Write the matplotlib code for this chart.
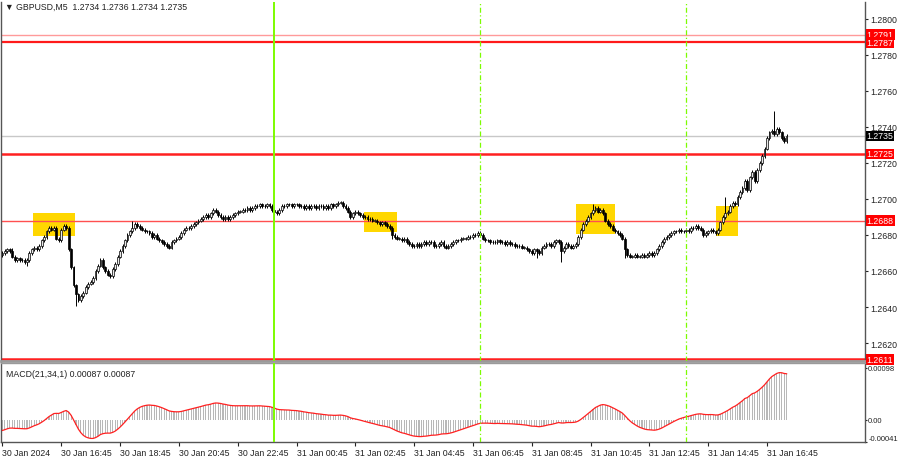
import numpy as np
import matplotlib
matplotlib.use("Agg")
import matplotlib.pyplot as plt
import matplotlib.transforms as mtransforms

plt.rcParams['font.family'] = ['Liberation Sans', 'DejaVu Sans']

base = 1.2600
pip = 0.0001

# M5 closes, pips above 1.2600, first bar 30 Jan 14:45
closes_pips = [
    70, 71, 72, 71, 68, 66, 67, 66, 66, 65, 66, 70,
    72, 73, 72, 74, 77, 79, 82, 84, 83, 84, 78, 77,
    83, 85, 84, 72, 62, 52, 47, 44, 46, 48, 51, 53,
    54, 56, 60, 63, 66, 62, 60, 58, 57, 61, 64, 68,
    71, 74, 77, 80, 82, 84, 86, 85, 84, 83, 82, 82,
    81, 79, 80, 78, 77, 76, 75, 74, 73, 76, 77, 78,
    79, 81, 83, 84, 84, 85, 86, 87, 88, 89, 90, 91,
    90, 92, 94, 93, 91, 90, 89, 90, 89, 90, 91, 92,
    93, 93, 94, 94, 95, 94, 95, 96, 96, 97, 96, 96,
    97, 96, 94, 93, 92, 94, 96, 96, 97, 97, 96, 97,
    97, 96, 96, 95, 96, 95, 96, 96, 95, 96, 96, 95,
    96, 95, 97, 96, 97, 98, 98, 96, 95, 93, 90, 92,
    93, 92, 91, 90, 90, 89, 89, 88, 88, 87, 86, 87,
    86, 85, 84, 80, 79, 78, 78, 77, 78, 76, 75, 74,
    74, 75, 74, 75, 76, 75, 76, 76, 74, 74, 75, 76,
    74, 73, 74, 75, 76, 77, 77, 78, 78, 78, 79, 79,
    80, 80, 81, 80, 78, 77, 77, 76, 76, 76, 77, 76,
    76, 75, 76, 75, 75, 74, 74, 74, 73, 73, 72, 71,
    70, 72, 71, 70, 73, 74, 75, 75, 74, 76, 77, 76,
    71, 73, 75, 74, 73, 74, 75, 79, 83, 86, 88, 90,
    92, 94, 95, 93, 94, 92, 88, 86, 85, 83, 82, 81,
    80, 78, 72, 69, 68, 68, 69, 68, 68, 69, 68, 69,
    70, 69, 70, 72, 74, 76, 78, 79, 80, 81, 82, 82,
    83, 82, 82, 83, 82, 84, 84, 85, 84, 83, 80, 81,
    82, 83, 82, 81, 83, 87, 90, 92, 93, 96, 98, 97,
    101, 104, 106, 110, 105, 112, 115, 110, 116, 120, 124, 128,
    134, 137, 138, 136, 139, 137, 134, 132, 135,
]
open0_pips = 69
high_spikes = {4: 73, 53: 88, 138: 99, 241: 97, 295: 101, 315: 149}
low_spikes = {10: 63, 30: 40.5, 111: 88, 159: 78, 218: 67, 228: 65, 254: 67}

levels = [1.2791, 1.2787, 1.2725, 1.2688, 1.2611]
level_colors = ['#ff9a9a', '#ff1a1a', '#ff2020', '#ff5050', '#ff2020']
level_widths = [1.0, 1.6, 1.8, 1.0, 1.8]
label_nudge = [0.00004, -0.00003, 0, 0, 0]
bid = 1.2735

# yellow zones: first bar, last bar, top, bottom
zones = [(12.4, 29.6, 1.26921, 1.26796),
         (147.7, 160.9, 1.26926, 1.26815),
         (234.1, 250.0, 1.26972, 1.26806),
         (291.1, 300.0, 1.26963, 1.26793)]

day_line = 111
session_lines = [195, 279]

time_labels = ['30 Jan 2024', '30 Jan 16:45', '30 Jan 18:45', '30 Jan 20:45',
               '30 Jan 22:45', '31 Jan 00:45', '31 Jan 02:45', '31 Jan 04:45',
               '31 Jan 06:45', '31 Jan 08:45', '31 Jan 10:45', '31 Jan 12:45',
               '31 Jan 14:45', '31 Jan 16:45']
macd_start = -0.00021

closes = base + np.array(closes_pips, dtype=float) * pip
n = len(closes)
idx = np.arange(n)
opens = np.r_[base + open0_pips * pip, closes[:-1]]
highs = np.maximum(opens, closes) + 1.0 * pip
lows = np.minimum(opens, closes) - 1.0 * pip
for k, v in high_spikes.items():
    highs[k] = base + v * pip
for k, v in low_spikes.items():
    lows[k] = base + v * pip


def ema(values, span, seed):
    a = 2.0 / (span + 1)
    out = np.empty_like(values)
    prev = seed
    for i, v in enumerate(values):
        prev = prev + a * (v - prev)
        out[i] = prev
    return out


macd = ema(closes, 21, closes[0]) - ema(closes, 34, closes[0] - macd_start)

fig = plt.figure(figsize=(9, 4.6), dpi=100)
ax = fig.add_axes([0.0011, 0.213, 0.9600, 0.7805])
axm = fig.add_axes([0.0011, 0.037, 0.9600, 0.1717])

xl = (-0.6, 352)

# zones
for x0, x1, top, bot in zones:
    ax.add_patch(plt.Rectangle((x0, bot), x1 - x0, top - bot, color='#ffd700', lw=0, zorder=1))

for lv, c, w in zip(levels, level_colors, level_widths):
    ax.axhline(lv, color=c, lw=w, zorder=2)
ax.axhline(bid, color='#c8c8c8', lw=1, zorder=2)

# candles
up = closes >= opens
ax.vlines(idx, lows, highs, color='black', lw=0.7, zorder=3)
body_lo = np.minimum(opens, closes)
body_h = np.maximum(np.abs(closes - opens), 0.15 * pip)
ax.bar(idx[up], body_h[up], bottom=body_lo[up], width=0.75, color='#e8e8e8',
       edgecolor='black', lw=0.5, zorder=4)
ax.bar(idx[~up], body_h[~up], bottom=body_lo[~up], width=0.75, color='black',
       edgecolor='black', lw=0.5, zorder=4)

for a in (ax, axm):
    a.axvline(day_line, color='#7cfc00', lw=1.4, zorder=5)
    for s in session_lines:
        a.axvline(s, color='#7cfc00', lw=0.9, ls=(0, (4, 2, 1, 2)), zorder=5)
    a.set_xlim(*xl)
    for sp in a.spines.values():
        sp.set_color('#555555')
        sp.set_linewidth(1.0)

ax.set_ylim(1.26100, 1.28094)
ax.yaxis.tick_right()
ax.set_yticks(np.arange(1.2620, 1.28001, 0.0020))
ax.set_yticklabels(['%.4f' % v for v in np.arange(1.2620, 1.28001, 0.0020)])
ax.tick_params(axis='y', length=2.5, labelsize=6.3, pad=1.5, colors='#222222')
ax.set_xticks([])
ax.spines['top'].set_visible(False)
ax.spines['bottom'].set_color('#9a9a9a')
ax.spines['bottom'].set_linewidth(2)

tr = mtransforms.blended_transform_factory(ax.transAxes, ax.transData)
for lv, dn in zip(levels, label_nudge):
    ax.text(1.002, lv + dn, '%.4f' % lv, transform=tr, fontsize=6.3, color='white', va='center',
            ha='left', bbox=dict(boxstyle='square,pad=0.1', fc='#ff0000', ec='none'), zorder=6)
ax.text(1.002, bid, '%.4f' % bid, transform=tr, fontsize=6.3, color='white', va='center',
        ha='left', bbox=dict(boxstyle='square,pad=0.1', fc='black', ec='none'), zorder=6)

fig.text(0.006, 0.984, '\u25bc GBPUSD,M5  1.2734 1.2736 1.2734 1.2735', fontsize=6.3,
         va='center', ha='left', color='#222222')

# MACD pane
axm.bar(idx, macd, width=0.45, color='#b8b8b8', zorder=2)
axm.plot(idx, macd, color='#ff2020', lw=0.9, zorder=3)
axm.set_ylim(-0.000415, 0.00107)
axm.yaxis.tick_right()
axm.set_yticks([0.00098, 0.0, -0.00041])
axm.set_yticklabels(['0.00098', '0.00', '-0.00041'])
axm.tick_params(axis='y', length=1.5, labelsize=5.5, pad=0.8, colors='#222222')
axm.get_yticklabels()[2].set_va('bottom')
axm.set_xticks(np.arange(0, n, 24))
axm.set_xticklabels(time_labels, ha='left')
axm.tick_params(axis='x', length=3, labelsize=6.3, pad=1.5, colors='#222222')
axm.spines['top'].set_color('#9a9a9a')
axm.text(0.006, 0.93, 'MACD(21,34,1) %.5f %.5f' % (macd[-1], macd[-1]), transform=axm.transAxes,
         fontsize=6.3, va='top', ha='left', color='#222222')

fig.savefig('out.png', dpi=100)
